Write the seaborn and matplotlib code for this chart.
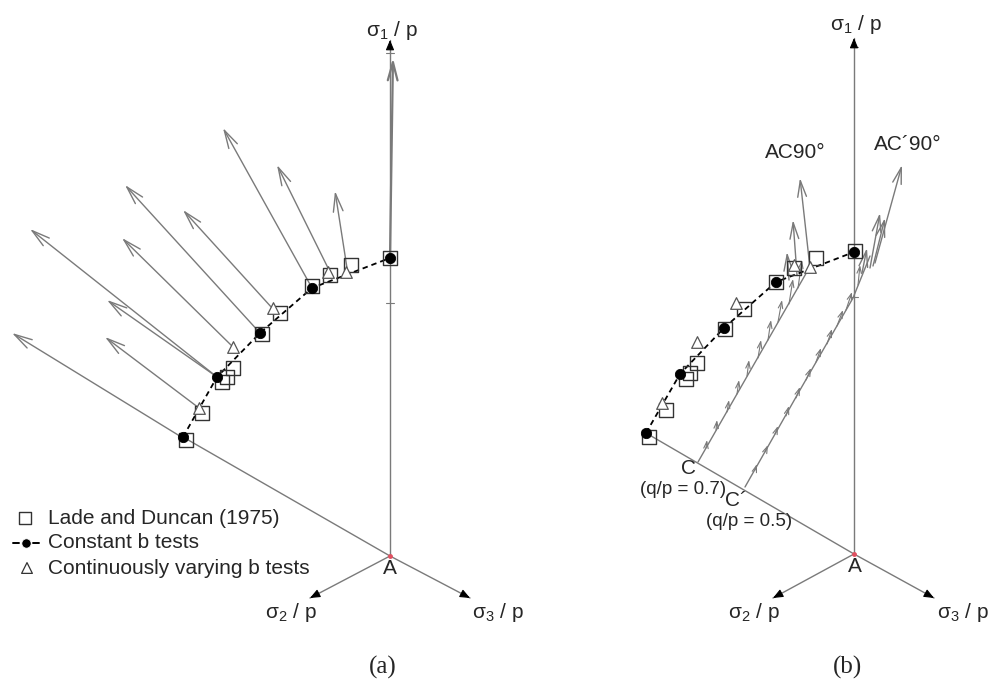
import numpy as np
import pandas as pd
import matplotlib
matplotlib.use("Agg")
import matplotlib.pyplot as plt
import seaborn as sns

sns.set_theme(style="white")
plt.rcParams['font.family'] = ['Liberation Sans', 'DejaVu Sans']
plt.rcParams['mathtext.fontset'] = 'custom'
plt.rcParams['mathtext.rm'] = 'Liberation Sans'
plt.rcParams['mathtext.it'] = 'Liberation Sans:italic'

# ---------------- data (diagram coordinates) ----------
# panel (a)
origin_a = (390, 556)
axis_a_ends = [(390, 40), (310, 598), (470, 598)]
circ_a_x = [183, 217, 260, 312, 390]
circ_a_y = [437, 377, 333, 288, 258]
sq_a_x = [186, 202, 222, 227, 233, 262, 280, 312, 330, 351, 390]
sq_a_y = [440, 413, 382, 377, 368, 334, 313, 286, 275, 265, 258]
tri_a_x = [199, 233, 273, 328, 346]
tri_a_y = [408, 347, 308, 272, 272]
load_a_base_x = [183, 199, 217, 217, 233, 260, 273, 312, 330, 347, 390]
load_a_base_y = [438, 408, 377, 377, 347, 333, 309, 288, 272, 268, 258]
load_a_tip_x = [12, 105, 30, 107, 122, 125, 183, 223, 277, 335, 393]
load_a_tip_y = [333, 337, 229, 300, 238, 185, 210, 128, 165, 191, 58]

# panel (b)
origin_b = (854, 554)
axis_b_ends = [(854, 38), (773, 598), (934, 598)]
circ_b_x = [646, 680, 724, 776, 854]
circ_b_y = [433, 374, 328, 282, 252]
sq_b_x = [649, 666, 686, 690, 697, 725, 744, 776, 794, 816, 855]
sq_b_y = [437, 410, 379, 373, 363, 329, 309, 282, 268, 258, 251]
tri_b_x = [662, 697, 736, 794, 810]
tri_b_y = [403, 342, 303, 265, 267]
# path from C (q/p = 0.7) and from C' (q/p = 0.5)
path_c_x = [698, 808]
path_c_y = [462, 270]
path_cp_x = [745, 800, 853, 870]
path_cp_y = [487, 390, 298, 256]
# small strain-increment arrows along the paths
inc_c_base_x = [706, 716, 727, 737, 747, 758, 768, 778, 789, 798]
inc_c_base_y = [448, 430, 412, 394, 376, 358, 340, 322, 304, 288]
inc_c_tip_x = [707, 717, 729, 739, 749, 761, 771, 782, 793, 802]
inc_c_tip_y = [440, 420, 400, 380, 360, 340, 320, 300, 279, 260]
inc_cp_base_x = [755, 765, 775, 786, 796, 806, 816, 827, 837, 846, 858]
inc_cp_base_y = [470, 452, 434, 416, 398, 380, 362, 344, 326, 310, 285]
inc_cp_tip_x = [757, 768, 778, 789, 800, 811, 821, 832, 843, 852, 860]
inc_cp_tip_y = [464, 445, 426, 406, 387, 368, 348, 329, 310, 292, 265]
big_b_base_x = [810, 797, 789, 875, 870, 873, 862]
big_b_base_y = [268, 275, 280, 263, 268, 266, 273]
big_b_tip_x = [800, 793, 787, 902, 880, 885, 867]
big_b_tip_y = [178, 220, 252, 165, 213, 218, 248]

legend_labels = ["Lade and Duncan (1975)", "Constant b tests", "Continuously varying b tests"]

# ---------------- drawing ----------------
fig = plt.figure(figsize=(9.92, 6.83), dpi=100)
ax = fig.add_axes([0, 0, 1, 1])
ax.set_xlim(0, 992)
ax.set_ylim(683, 0)
ax.axis('off')

GREY = '#7a7a7a'
FS = 15


def arrow(base, tip, color=GREY, lw=1.0, style='->,head_length=1.3,head_width=0.35', ms=10, z=2):
    ax.annotate('', xy=tip, xytext=base,
                arrowprops=dict(arrowstyle=style, color=color, lw=lw, mutation_scale=ms,
                                shrinkA=0, shrinkB=0), zorder=z)


def axes_triad(origin, ends):
    for e in ends:
        ax.plot([origin[0], e[0]], [origin[1], e[1]], color=GREY, lw=1.0, zorder=1)
        v = np.array(e, float) - np.array(origin, float)
        v /= np.linalg.norm(v)
        start = np.array(e) - v * 3
        arrow(tuple(start), e, color='black', lw=0.8,
              style='-|>,head_length=0.6,head_width=0.25', ms=10, z=3)
    ax.plot([origin[0]], [origin[1]], marker='o', ms=2.5, color='#e05060', zorder=4)


def markers(cx, cy, sx, sy, tx, ty):
    sns.scatterplot(x=sx, y=sy, marker='s', s=100, facecolor='none', edgecolor='#333333',
                    linewidth=1.0, ax=ax, zorder=5, legend=False)
    sns.scatterplot(x=tx, y=ty, marker='^', s=70, facecolor='white', edgecolor='#555555',
                    linewidth=0.9, ax=ax, zorder=6, legend=False)
    ax.plot(cx, cy, color='black', lw=1.3, ls=(0, (3, 2.2)), zorder=4)
    sns.scatterplot(x=cx, y=cy, marker='o', s=55, color='black', edgecolor='black',
                    ax=ax, zorder=7, legend=False)


# panel (a)
axes_triad(origin_a, axis_a_ends)
ax.plot([origin_a[0], circ_a_x[0]], [origin_a[1], circ_a_y[0]], color=GREY, lw=1.0, zorder=1)
for bx, by, tx_, ty_ in zip(load_a_base_x, load_a_base_y, load_a_tip_x, load_a_tip_y):
    arrow((bx, by), (tx_, ty_), lw=1.6 if bx == 390 else 1.0)
for yy in (303, 53):
    ax.plot([386, 394], [yy, yy], color=GREY, lw=0.8)
markers(circ_a_x, circ_a_y, sq_a_x, sq_a_y, tri_a_x, tri_a_y)

ax.text(392, 30, r'σ$_1$ / p', ha='center', va='center', fontsize=FS)
ax.text(291, 613, r'σ$_2$ / p', ha='center', va='center', fontsize=FS)
ax.text(498, 613, r'σ$_3$ / p', ha='center', va='center', fontsize=FS)
ax.text(390, 569, 'A', ha='center', va='center', fontsize=FS)

# legend (drawn in panel a)
sns.scatterplot(x=[25], y=[518], marker='s', s=85, facecolor='none', edgecolor='#333333',
                linewidth=1.0, ax=ax, legend=False)
ax.plot([13, 19], [543, 543], color='black', lw=1.4)
ax.plot([33, 39], [543, 543], color='black', lw=1.4)
sns.scatterplot(x=[26], y=[543], marker='o', s=45, color='black', ax=ax, legend=False)
sns.scatterplot(x=[27], y=[568], marker='^', s=60, facecolor='none', edgecolor='#333333',
                linewidth=0.9, ax=ax, legend=False)
for lab, yy in zip(legend_labels, [518, 543, 568]):
    ax.text(48, yy, lab, ha='left', va='center', fontsize=FS)

# panel (b)
axes_triad(origin_b, axis_b_ends)
ax.plot([origin_b[0], circ_b_x[0]], [origin_b[1], circ_b_y[0]], color=GREY, lw=1.0, zorder=1)
ax.plot(path_c_x, path_c_y, color=GREY, lw=1.0, zorder=2)
ax.plot(path_cp_x, path_cp_y, color=GREY, lw=1.0, zorder=2)
for bx, by, tx_, ty_ in zip(inc_c_base_x, inc_c_base_y, inc_c_tip_x, inc_c_tip_y):
    arrow((bx, by), (tx_, ty_), lw=0.8, style='->,head_length=1.2,head_width=0.4', ms=4)
for bx, by, tx_, ty_ in zip(inc_cp_base_x, inc_cp_base_y, inc_cp_tip_x, inc_cp_tip_y):
    arrow((bx, by), (tx_, ty_), lw=0.8, style='->,head_length=1.2,head_width=0.4', ms=4)
for bx, by, tx_, ty_ in zip(big_b_base_x, big_b_base_y, big_b_tip_x, big_b_tip_y):
    arrow((bx, by), (tx_, ty_), lw=1.0, ms=9)
for yy in (297, 47):
    ax.plot([850, 858], [yy, yy], color=GREY, lw=0.8)
markers(circ_b_x, circ_b_y, sq_b_x, sq_b_y, tri_b_x, tri_b_y)

ax.text(856, 25, r'σ$_1$ / p', ha='center', va='center', fontsize=FS)
ax.text(754, 613, r'σ$_2$ / p', ha='center', va='center', fontsize=FS)
ax.text(963, 613, r'σ$_3$ / p', ha='center', va='center', fontsize=FS)
ax.text(855, 567, 'A', ha='center', va='center', fontsize=FS)
ax.text(795, 152, 'AC90°', ha='center', va='center', fontsize=FS)
ax.text(908, 145, 'AC´90°', ha='center', va='center', fontsize=FS)
ax.text(689, 469, 'C', ha='center', va='center', fontsize=FS)
ax.text(736, 500, 'C´', ha='center', va='center', fontsize=FS)
ax.text(683, 489, '(q/p = 0.7)', ha='center', va='center', fontsize=13.5)
ax.text(749, 522, '(q/p = 0.5)', ha='center', va='center', fontsize=13.5)

# panel labels
ax.text(383, 667, '(a)', ha='center', va='center', fontsize=18, family='Liberation Serif')
ax.text(847, 667, '(b)', ha='center', va='center', fontsize=18, family='Liberation Serif')

fig.savefig('out.png', dpi=100)
